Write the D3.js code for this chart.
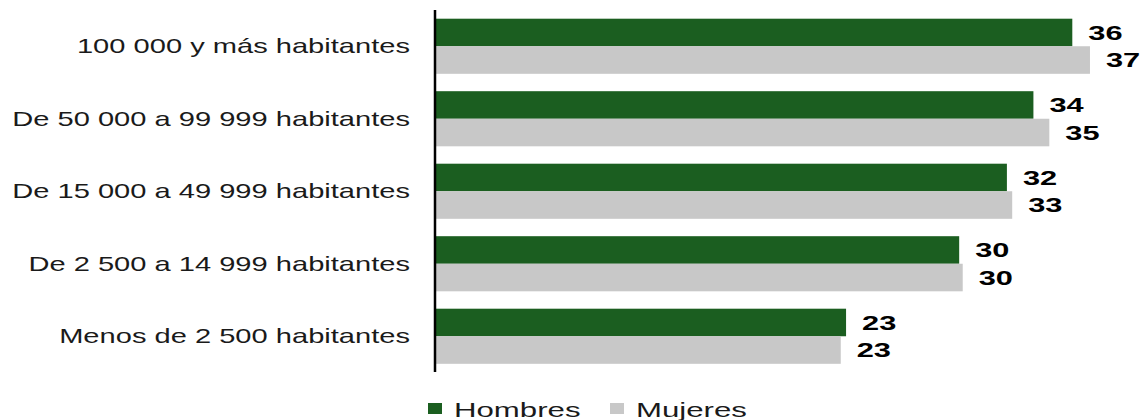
<!DOCTYPE html>
<html>
<head>
<meta charset="utf-8">
<script src="https://cdn.jsdelivr.net/npm/d3@7"></script>
<style>
  body { margin: 0; background: #fff; }
  text { font-family: "Liberation Sans", Arial, sans-serif; }
</style>
</head>
<body>
<div id="chart"></div>
<script>
const categories = [
  "100 000 y más habitantes",
  "De 50 000 a 99 999 habitantes",
  "De 15 000 a 49 999 habitantes",
  "De 2 500 a 14 999 habitantes",
  "Menos de 2 500 habitantes",
];
const series = ["Hombres", "Mujeres"];
const hombres = [36.0, 33.8, 32.3, 29.6, 23.2];
const mujeres = [37.0, 34.7, 32.6, 29.8, 22.9];
const colors = ["#1b5e20", "#c8c8c8"];

const w = 1142;
const h = 420;
const sx = 1.455; // reference text is stretched horizontally

const svg = d3
  .select("#chart")
  .append("svg")
  .attr("width", w)
  .attr("height", h);

const x = d3.scaleLinear().domain([0, 40]).range([436, 1143]);
const y = d3
  .scaleBand()
  .domain(categories)
  .range([10, 372.5])
  .paddingInner(0.24)
  .paddingOuter(0.12);
const ySub = d3.scaleBand().domain(series).range([0, y.bandwidth()]);

const rows = categories.map((c, i) => ({
  cat: c,
  values: [hombres[i], mujeres[i]],
}));

const group = svg
  .selectAll("g.row")
  .data(rows)
  .enter()
  .append("g")
  .attr("class", "row")
  .attr("transform", (d) => `translate(0,${y(d.cat)})`);

group
  .selectAll("rect")
  .data((d) => d.values.map((v, j) => ({ s: series[j], v: v, j: j })))
  .enter()
  .append("rect")
  .attr("x", x(0))
  .attr("y", (d) => ySub(d.s))
  .attr("width", (d) => x(d.v) - x(0))
  .attr("height", ySub.bandwidth())
  .attr("fill", (d) => colors[d.j]);

group
  .selectAll("text.val")
  .data((d) => d.values.map((v, j) => ({ s: series[j], v: v })))
  .enter()
  .append("text")
  .attr("class", "val")
  .attr(
    "transform",
    (d) =>
      `translate(${x(d.v) + 16},${ySub(d.s) + ySub.bandwidth() / 2}) scale(1.5,1)`
  )
  .attr("dy", "0.36em")
  .attr("font-size", 20.5)
  .attr("font-weight", "bold")
  .attr("fill", "#000")
  .text((d) => d3.format(".0f")(d.v));

// category labels
svg
  .selectAll("text.cat")
  .data(categories)
  .enter()
  .append("text")
  .attr("class", "cat")
  .attr(
    "transform",
    (d) => `translate(410,${y(d) + y.bandwidth() / 2}) scale(${sx},1)`
  )
  .attr("dy", "0.36em")
  .attr("text-anchor", "end")
  .attr("font-size", 20)
  .attr("fill", "#1a1a1a")
  .text((d) => d);

// axis line
svg
  .append("line")
  .attr("x1", 435)
  .attr("x2", 435)
  .attr("y1", 10)
  .attr("y2", 372)
  .attr("stroke", "#000")
  .attr("stroke-width", 2.5);

// legend
const legendX = [428, 610];
const legend = svg
  .selectAll("g.legend")
  .data(series)
  .enter()
  .append("g")
  .attr("class", "legend")
  .attr("transform", (d, i) => `translate(${legendX[i]},403)`);

legend
  .append("rect")
  .attr("width", 14)
  .attr("height", 11)
  .attr("fill", (d, i) => colors[i]);

legend
  .append("text")
  .attr("transform", `translate(26,14) scale(1.6,1)`)
  .attr("font-size", 19.5)
  .attr("fill", "#1a1a1a")
  .text((d) => d);
</script>
</body>
</html>
